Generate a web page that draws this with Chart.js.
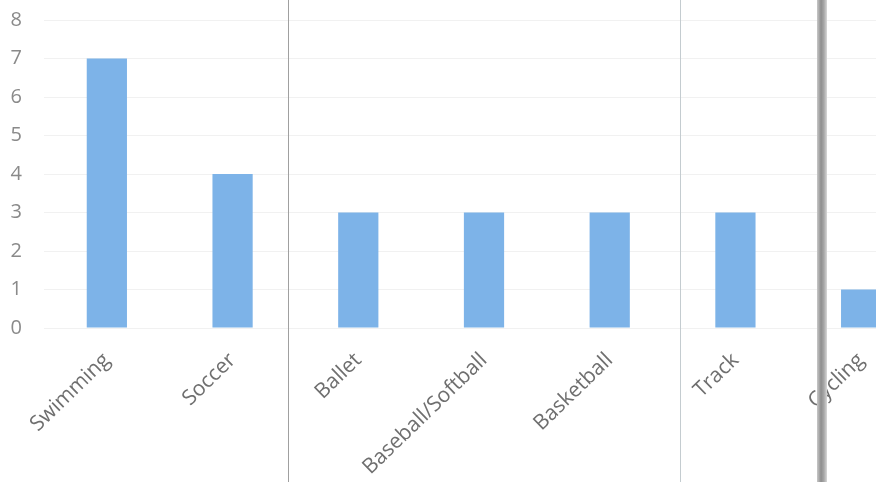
<!DOCTYPE html>
<html>
<head>
<meta charset="utf-8">
<script src="https://cdn.jsdelivr.net/npm/chart.js@4"></script>
<style>
    html, body { margin: 0; padding: 0; background: #ffffff; overflow: hidden; }
    #wrap { position: relative; width: 876px; height: 482px; overflow: hidden; }
    #box { position: absolute; left: 0; top: 0; width: 924px; height: 540px; }
    .scan { position: absolute; top: 0; height: 482px; }
</style>
</head>
<body>
<div id="wrap">
    <div id="box"><canvas id="sportsChart"></canvas></div>
    <!-- scanner page edges -->
    <div class="scan" style="left:288px;width:1px;background:#a0a0a0;"></div>
    <div class="scan" style="left:680px;width:1px;background:#c4ccd0;"></div>
    <div class="scan" style="left:817px;width:10px;background:linear-gradient(90deg,#c8c8c8,#8e8e8e 40%,#a8a8a8 70%,#d8d8d8);"></div>
</div>
<script>
// Sports chart (scanned page, right side cut off)

const sportLabels = ['Swimming', 'Soccer', 'Ballet', 'Baseball/Softball', 'Basketball', 'Track', 'Cycling'];
const sportCounts = [7, 4, 3, 3, 3, 3, 1];
const yTickValues = [0, 1, 2, 3, 4, 5, 6, 7, 8];

document.addEventListener('DOMContentLoaded', function () {
    const canvas = document.getElementById('sportsChart');
    if (!canvas || typeof Chart === 'undefined') return;

    new Chart(canvas, {
        type: 'bar',
        data: {
            labels: sportLabels,
            datasets: [
                {
                    label: 'Count',
                    data: sportCounts,
                    backgroundColor: '#7db3e8',
                    borderWidth: 0,
                    barPercentage: 0.32,
                    categoryPercentage: 1.0
                }
            ]
        },
        options: {
            responsive: true,
            maintainAspectRatio: false,
            animation: false,
            layout: {
                padding: { top: 20, left: 0, right: 0, bottom: 0 }
            },
            plugins: {
                legend: { display: false },
                tooltip: { enabled: false }
            },
            scales: {
                y: {
                    min: 0,
                    max: 8,
                    afterBuildTicks: function (axis) {
                        axis.ticks = yTickValues.map(v => ({ value: v }));
                    },
                    afterFit: function (axis) {
                        axis.width = 44;
                        axis.paddingTop = 0;
                        axis.paddingBottom = 0;
                    },
                    border: { display: false },
                    grid: {
                        color: '#f1f1f1',
                        drawTicks: false
                    },
                    ticks: {
                        color: '#8a8a8a',
                        padding: 22,
                        font: { family: 'Open Sans', size: 20 }
                    }
                },
                x: {
                    afterFit: function (axis) {
                        // keep the plot area where the scan has it; long labels run off the page
                        axis.height = 212;
                        axis.paddingLeft = 0;
                        axis.paddingRight = 0;
                    },
                    border: { display: false },
                    grid: { display: false },
                    ticks: {
                        color: '#6f6f6f',
                        minRotation: 44,
                        maxRotation: 44,
                        autoSkip: false,
                        padding: 12,
                        font: { family: 'Open Sans', size: 21 }
                    }
                }
            }
        }
    });
});
</script>
</body>
</html>
